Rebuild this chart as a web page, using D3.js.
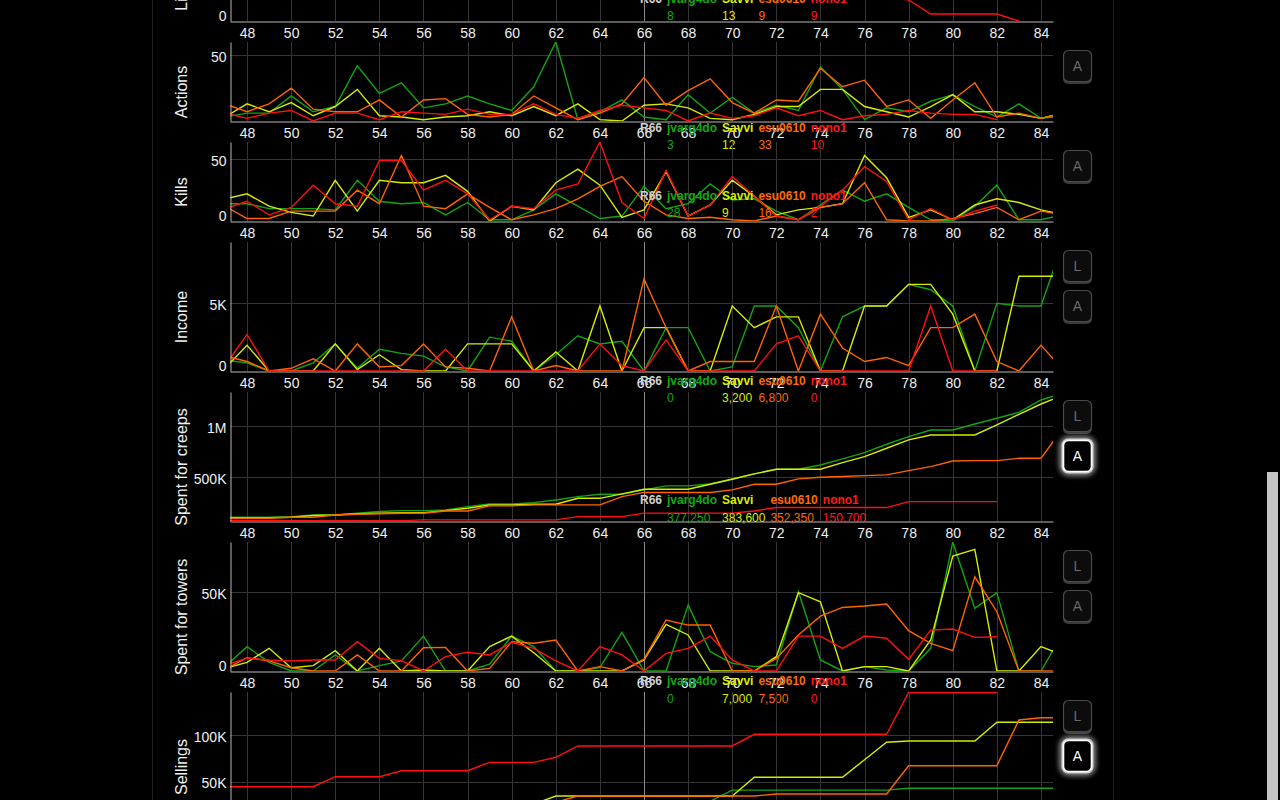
<!DOCTYPE html>
<html><head><meta charset="utf-8">
<script src="https://cdn.jsdelivr.net/npm/d3@7/dist/d3.min.js"></script>
<style>
html,body{margin:0;padding:0;background:#000;overflow:hidden;width:1280px;height:800px;}
svg{display:block;}
text{font-family:"Liberation Sans",Arial,Helvetica,sans-serif;}
</style></head><body>
<svg id="chart" width="1280" height="800"></svg>
<script>
// ---------------- DATA (rounds 47..85) ----------------
const firstRound = 47;
const selectedRound = 66;
const roundTicks = [48,50,52,54,56,58,60,62,64,66,68,70,72,74,76,78,80,82,84];
const players = ["jvarg4do","Savvi","esu0610","nono1"];

const livesJvarg4do = [20,20,19,19,19,18,17,17,16,15,15,14,13,13,12,11,11,10,9,8,8,8,8,8,8,8,8,8,8,8,8,8,8,8,7,7,7,7,7];
const livesSavvi    = [20,20,20,19,19,19,18,18,17,17,17,16,16,15,15,15,14,14,13,13,13,13,13,13,12,12,12,12,12,11,11,11,11,10,10,10,10,10,10];
const livesEsu0610  = [20,20,19,19,18,18,17,16,16,15,15,14,13,13,12,12,11,10,10,9,9,9,9,9,9,9,8,8,8,8,8,8,8,8,8,8,8,8,8];
const livesNono1    = [20,19,19,18,18,17,16,16,15,14,14,13,13,12,12,11,11,10,10,9,9,9,9,8,8,8,8,8,8,8,7,6,2,2,2,2,0];

const actionsJvarg4do = [3,6,6,19,7,11,42,21,29,10,13,19,13,8,26,60,1,7,16,3,1,20,6,18,6,12,8,41,24,1,10,7,15,20,11,3,13,2,4];
const actionsSavvi    = [3,13,7,14,4,11,24,4,3,1,3,4,7,4,11,4,13,1,0,12,13,10,2,1,5,11,11,24,24,11,7,3,11,20,7,7,5,2,6];
const actionsEsu0610  = [13,7,13,25,9,7,7,16,3,16,17,5,3,5,19,10,1,6,13,33,12,23,32,14,6,16,15,40,26,31,11,16,2,16,29,3,6,2,6];
const actionsNono1    = [6,2,6,8,0,6,6,1,7,6,5,9,5,5,13,5,2,8,12,10,8,0,6,2,4,10,4,8,1,4,5,8,6,5,5,1];

const killsJvarg4do = [14,14,10,10,10,9,33,16,14,15,5,15,1,1,9,22,12,2,4,28,10,14,30,17,18,8,1,13,25,16,22,11,1,0,12,29,1,1,5];
const killsSavvi    = [18,22,12,7,4,33,8,33,31,31,37,24,0,12,9,31,42,29,3,9,40,4,13,33,20,5,9,11,14,53,35,3,9,1,13,18,15,9,5];
const killsEsu0610  = [12,2,2,8,8,8,25,14,53,12,10,22,11,1,5,10,18,28,36,16,5,2,3,1,0,4,1,11,14,31,1,0,0,2,6,11,1,8,5];
const killsNono1    = [10,16,5,11,29,14,12,49,49,25,33,22,1,12,10,25,30,64,15,2,41,4,13,36,20,4,1,12,25,44,32,1,10,1,8,13];

const incomeJvarg4do = [800,600,0,0,600,2000,200,1600,1300,1100,300,0,2500,2200,0,1200,2600,2000,2200,0,3200,3200,0,300,4800,4800,3200,0,4000,4800,4800,6400,6000,4800,0,5000,4800,4800,9500];
const incomeSavvi    = [200,1900,0,0,0,2000,100,1200,100,0,0,2000,2000,2000,0,1400,0,4800,0,3200,3200,0,0,4800,3200,4000,4000,0,0,4800,4800,6400,6400,4200,0,0,7000,7000,7000];
const incomeEsu0610  = [1100,700,0,200,900,0,2000,300,400,2000,300,200,0,4000,0,400,0,0,0,6800,3200,0,700,700,700,4800,0,4200,1700,700,1000,400,3200,3200,4200,700,0,1900,100];
const incomeNono1    = [400,2700,0,0,0,0,0,0,0,0,1600,0,0,0,0,0,0,2000,400,0,2300,0,0,0,0,2000,2600,0,0,0,0,0,4800,0,0,0];

const creepsJvarg4do = [110000,110000,110000,117000,133000,133000,150000,166000,175000,175000,182000,214000,240000,240000,253000,279000,312000,335000,335000,377250,416000,416000,435000,484000,533000,578000,578000,620000,679000,740000,822000,896000,961000,961000,1019000,1075000,1133000,1253000,1320000];
const creepsSavvi    = [107000,107000,107000,110000,128000,133000,144000,150000,156000,156000,175000,198000,231000,231000,237000,237000,295000,295000,338000,383600,383600,383600,432000,481000,533000,578000,578000,578000,643000,701000,783000,864000,912000,912000,912000,1010000,1114000,1214000,1298000];
const creepsEsu0610  = [101000,101000,101000,110000,110000,133000,140000,144000,150000,150000,172000,172000,221000,221000,231000,231000,231000,231000,312000,352350,352350,352350,352350,377000,432000,432000,484000,500000,507000,516000,523000,565000,604000,659000,662000,662000,685000,685000,980000];
const creepsNono1    = [78000,78000,78000,78000,78000,78000,78000,78000,78000,85000,85000,85000,85000,85000,85000,85000,117000,117000,117000,150700,150700,150700,150700,150700,172000,205000,205000,205000,205000,205000,205000,263000,263000,263000,263000,263000];

const towersJvarg4do = [2800,15500,5500,0,0,10200,0,3400,6400,22200,0,0,4400,22200,15500,0,0,2100,24600,0,0,41900,12300,4900,2800,3800,50400,7000,0,2800,600,0,14400,82000,39800,49800,0,0,24000];
const towersSavvi    = [1700,5500,14400,2100,3400,12900,0,14400,0,600,0,0,15500,22200,11600,0,0,0,0,7000,29600,22900,0,0,0,9100,49800,44000,0,2800,2800,0,19700,73000,77300,0,0,15500,10000];
const towersEsu0610  = [1000,8500,6400,2100,0,0,10200,0,0,14800,15000,0,1700,18600,17600,19700,0,2800,0,7500,32400,29200,29200,0,0,8000,22900,34900,40400,41300,42600,25600,17600,12900,59900,37700,0,0,0];
const towersNono1    = [3800,8000,7000,6400,7000,7000,18600,8000,6600,0,9100,11900,10200,18200,14400,6400,0,15500,10200,0,11200,14400,22200,7000,0,0,22200,22200,14400,22200,20800,7400,26000,26700,21400,21800];

const sellingsJvarg4do = [25000,25000,25000,25000,25000,25000,25000,25000,25000,25000,25000,25000,25000,25000,25000,25000,25000,25000,25000,25000,25000,25000,29000,41000,41000,41000,41000,41000,41000,41000,41000,42900,42900,42900,42900,42900,42900,42900,42900];
const sellingsSavvi    = [22000,22000,22000,22000,22000,22000,22000,22000,22000,22000,22000,22000,22000,22000,26000,34600,34600,34600,34600,34600,34600,34600,34600,34600,54700,54700,54700,54700,54700,73500,92200,93600,93600,93600,93600,113600,113600,113600,113600];
const sellingsEsu0610  = [25000,25000,25000,25000,25000,25000,25000,25000,25000,25000,25000,25000,25000,25000,25000,28000,34600,34600,34600,34600,34600,34600,34600,34600,34600,36800,36800,36800,36800,36800,36800,67100,67100,67100,67100,67100,116000,118500,118500];
const sellingsNono1    = [44600,44600,44600,44600,44600,55300,55300,55300,61700,61700,61700,61700,70700,70700,70700,76100,88200,88200,88200,88200,88200,88200,88200,88200,100700,100700,100700,100700,100700,100700,100700,145500,145500,145500,145500,145500];

// ---------------- STYLE / LAYOUT ----------------
const lineColors   = ["#12a512","#d6ec00","#ff6400","#ff1010"];
const legendColors = ["#14a814","#d8ee00","#ff6a00","#ff1a1a"];
const gridColor = "#363636";
const axisColor = "#b8b8b8";
const plotLeft = 230, plotRight = 1053;

const panels = [
  {label:"Lives", top:-58, h:79, yDomain:[0,22.6], yTicks:[0,10,20], series:[livesJvarg4do,livesSavvi,livesEsu0610,livesNono1], legendY:-1, legendGap:17, buttons:[{t:"A",on:false}]},
  {label:"Actions", top:42, h:79, yDomain:[0,60], yTicks:[50], series:[actionsJvarg4do,actionsSavvi,actionsEsu0610,actionsNono1], legendY:128, legendGap:17, buttons:[{t:"A",on:false}]},
  {label:"Kills", top:142, h:79, yDomain:[0,64], yTicks:[0,50], series:[killsJvarg4do,killsSavvi,killsEsu0610,killsNono1], legendY:196, legendGap:17, buttons:[{t:"A",on:false}]},
  {label:"Income", top:242, h:129, yDomain:[0,9527], yTicks:[0,5000], series:[incomeJvarg4do,incomeSavvi,incomeEsu0610,incomeNono1], legendY:381, legendGap:17, buttons:[{t:"L",on:false},{t:"A",on:false}]},
  {label:"Spent for creeps", top:392, h:129, yDomain:[74000,1331000], yTicks:[500000,1000000], series:[creepsJvarg4do,creepsSavvi,creepsEsu0610,creepsNono1], legendY:500, legendGap:18, buttons:[{t:"L",on:false},{t:"A",on:true}]},
  {label:"Spent for towers", top:542, h:129, yDomain:[0,82000], yTicks:[0,50000], series:[towersJvarg4do,towersSavvi,towersEsu0610,towersNono1], legendY:681, legendGap:18, buttons:[{t:"L",on:false},{t:"A",on:false}]},
  {label:"Sellings", top:692, h:129, yDomain:[7900,146000], yTicks:[50000,100000], series:[sellingsJvarg4do,sellingsSavvi,sellingsEsu0610,sellingsNono1], legendY:831, legendGap:18, buttons:[{t:"L",on:false},{t:"A",on:true}]}
];

const svg = d3.select("#chart");
const defs = svg.append("defs");
const glow = defs.append("filter").attr("id","glow").attr("x","-50%").attr("y","-50%").attr("width","200%").attr("height","200%");
glow.append("feGaussianBlur").attr("in","SourceGraphic").attr("stdDeviation",3).attr("result","b");
const fm = glow.append("feMerge");
fm.append("feMergeNode").attr("in","b");
fm.append("feMergeNode").attr("in","b");
fm.append("feMergeNode").attr("in","SourceGraphic");

// page frame
svg.append("line").attr("x1",152.5).attr("x2",152.5).attr("y1",0).attr("y2",800).attr("stroke","#1e1e1e");
svg.append("line").attr("x1",1113.5).attr("x2",1113.5).attr("y1",0).attr("y2",800).attr("stroke","#1e1e1e");
// scrollbar
svg.append("rect").attr("x",1267).attr("y",472).attr("width",11).attr("height",328).attr("fill","#c4c4c4");

const x = d3.scaleLinear().domain([48 - 17/22, 84 + 12/22]).range([plotLeft, plotRight]);

function fmtTick(v){
  if (v >= 1e6) return (v/1e6) + "M";
  if (v >= 1e3) return (v/1e3) + "K";
  return String(v);
}
const fmtLegend = d3.format(",");

panels.forEach((p, pi) => {
  const bottom = p.top + p.h;
  const y = d3.scaleLinear().domain(p.yDomain).range([bottom, p.top]);
  const g = svg.append("g");
  const cid = "clip" + pi;
  defs.append("clipPath").attr("id", cid).append("rect")
    .attr("x", plotLeft).attr("y", p.top).attr("width", plotRight - plotLeft).attr("height", p.h);

  // grid
  g.append("g").selectAll("line").data(roundTicks).join("line")
    .attr("x1", d => Math.round(x(d)) + 0.5).attr("x2", d => Math.round(x(d)) + 0.5)
    .attr("y1", p.top).attr("y2", bottom).attr("stroke", gridColor).attr("stroke-width", 1);
  g.append("g").selectAll("line").data(p.yTicks.filter(v => y(v) < bottom - 2)).join("line")
    .attr("x1", plotLeft).attr("x2", plotRight)
    .attr("y1", d => Math.round(y(d)) + 0.5).attr("y2", d => Math.round(y(d)) + 0.5)
    .attr("stroke", gridColor).attr("stroke-width", 1);

  // selection line
  g.append("line").attr("x1", Math.round(x(selectedRound)) + 0.5).attr("x2", Math.round(x(selectedRound)) + 0.5)
    .attr("y1", p.top).attr("y2", bottom).attr("stroke", "#8a8a8a").attr("stroke-width", 1);

  // series
  const line = d3.line().x(d => x(d[0])).y(d => y(d[1]));
  p.series.forEach((arr, si) => {
    const pts = arr.map((v, j) => [firstRound + j, v]);
    g.append("path").attr("clip-path", `url(#${cid})`)
      .attr("d", line(pts)).attr("fill", "none")
      .attr("stroke", lineColors[si]).attr("stroke-width", 1.4)
      .attr("stroke-linejoin", "miter");
  });

  // axes
  const xAxis = d3.axisBottom(x).tickValues(roundTicks).tickSize(0).tickSizeOuter(0).tickPadding(7);
  const xa = g.append("g").attr("transform", `translate(0,${bottom + 0.5})`).call(xAxis);
  xa.select(".domain").attr("stroke", axisColor).attr("stroke-width", 1);
  xa.selectAll("text").attr("fill", "#f0f0f0").attr("font-size", 14)
    .attr("font-family", "'Liberation Sans', Arial, sans-serif");

  const yAxis = d3.axisLeft(y).tickValues(p.yTicks).tickFormat(fmtTick).tickSize(0).tickSizeOuter(0).tickPadding(4);
  const ya = g.append("g").attr("transform", `translate(${plotLeft + 0.5},0)`).call(yAxis);
  ya.select(".domain").attr("stroke", axisColor).attr("stroke-width", 1);
  ya.selectAll("text").attr("fill", "#f0f0f0").attr("font-size", 14)
    .attr("font-family", "'Liberation Sans', Arial, sans-serif")
    .attr("dy", d => (y(d) > bottom - 4) ? "-0.05em" : "0.45em");

  // y label
  svg.append("text")
    .attr("transform", `translate(181,${p.top + (p.h + 21) / 2}) rotate(-90)`)
    .attr("text-anchor", "middle").attr("dominant-baseline", "central")
    .attr("font-size", 16).attr("fill", "#f0f0f0").text(p.label);

  // legend (values at selected round)
  const idx = selectedRound - firstRound;
  const cols = [{name: "R" + selectedRound, val: "", color: "#d0d0d0"}]
    .concat(players.map((n, i) => ({name: n, val: p.series[i][idx] == null ? "" : fmtLegend(p.series[i][idx]), color: legendColors[i]})));
  let cx = 640;
  const lg = svg.append("g");
  cols.forEach(c => {
    const t1 = lg.append("text").attr("x", cx).attr("y", p.legendY).attr("dominant-baseline", "central")
      .attr("font-size", 12).attr("font-weight", "bold").attr("fill", c.color).text(c.name);
    const t2 = lg.append("text").attr("x", cx).attr("y", p.legendY + p.legendGap).attr("dominant-baseline", "central")
      .attr("font-size", 12).attr("fill", c.color).text(c.val);
    const w = Math.max(t1.node().getComputedTextLength(), t2.node().getComputedTextLength());
    cx += w + 5;
  });

  // buttons
  p.buttons.forEach((b, k) => {
    const by = p.top + 8 + k * 40;
    const bg = svg.append("g");
    if (b.on) {
      bg.append("rect").attr("x", 1063).attr("y", by).attr("width", 29).attr("height", 32).attr("rx", 5)
        .attr("fill", "none").attr("stroke", "#fff").attr("stroke-width", 3).attr("filter", "url(#glow)").attr("opacity", 0.8);
    } else {
      bg.append("rect").attr("x", 1063).attr("y", by + 2).attr("width", 29).attr("height", 32).attr("rx", 5)
        .attr("fill", "#3a3a3a");
    }
    bg.append("rect").attr("x", 1063.5).attr("y", by + 0.5).attr("width", 28).attr("height", 31).attr("rx", 5)
      .attr("fill", b.on ? "#000" : "#0c0c0c").attr("stroke", b.on ? "#fff" : "#4a4a4a").attr("stroke-width", b.on ? 1.6 : 1.2);
    bg.append("text").attr("x", 1077.5).attr("y", by + 16).attr("text-anchor", "middle").attr("dominant-baseline", "central")
      .attr("font-size", 14).attr("fill", b.on ? "#fff" : "#6a6a6a").text(b.t);
  });
});
</script></body></html>
